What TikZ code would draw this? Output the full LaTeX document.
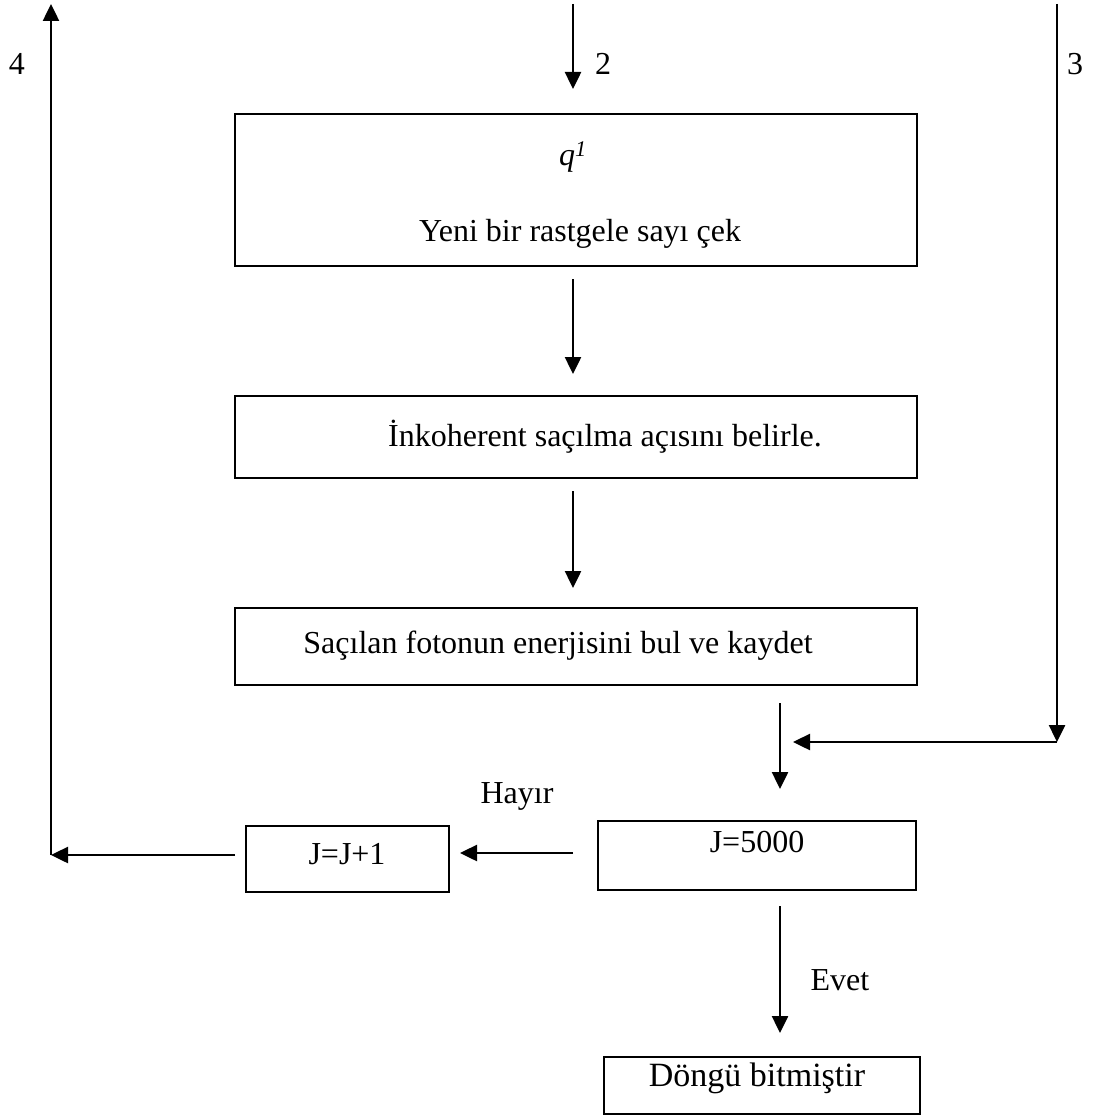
\documentclass[tikz,border=0pt]{standalone}
\usepackage{fontspec}
\setmainfont{Liberation Serif}
\usetikzlibrary{arrows.meta}
\begin{document}
\begin{tikzpicture}[x=1pt,y=-1pt,
  every node/.style={font=\fontsize{32}{38}\selectfont, inner sep=0pt, outer sep=0pt},
  boxstyle/.style={draw, line width=2.5pt},
  txt/.style={},
  arr/.style={line width=2.5pt, -{Triangle[length=17pt,width=16pt]}},
  ln/.style={line width=2.5pt}]
\useasboundingbox (0,0) rectangle (1095,1115);
% boxes
\node[boxstyle, minimum width=682pt, minimum height=152pt] (b1) at (576,190) {};
\node[boxstyle, minimum width=682pt, minimum height=82pt] (b2) at (576,437) {};
\node[boxstyle, minimum width=682pt, minimum height=77pt] (b3) at (576,646.5) {};
\node[boxstyle, minimum width=318pt, minimum height=69pt] (bj) at (757,855.5) {};
\node[boxstyle, minimum width=203pt, minimum height=66pt] (jj) at (347.5,859) {};
\node[boxstyle, minimum width=316pt, minimum height=57pt] (dn) at (762,1085.5) {};
% texts
\node[txt] (tq) at (573,157) {\textit{q}\textsuperscript{\textit{1}}};
\node[txt] (t1) at (580,234) {Yeni bir rastgele sayı çek};
\node[txt] (t2) at (605,437) {İnkoherent saçılma açısını belirle.};
\node[txt] (t3) at (558,646) {Saçılan fotonun enerjisini bul ve kaydet};
\node[txt] (tj) at (757,842) {J=5000};
\node[txt] (tjj) at (347,854) {J=J+1};
\node[txt, font=\fontsize{34}{40}\selectfont] (tdn) at (757,1078) {Döngü bitmiştir};
\node[txt] (lh) at (517,796) {Hayır};
\node[txt] (le) at (840,980) {Evet};
\node[txt] (l4) at (17,64) {4};
\node[txt] (l2) at (603,64) {2};
\node[txt] (l3) at (1075,64) {3};
% coordinates
\coordinate (cx) at (573,0);
\coordinate (cx2) at (780,0);
\coordinate (top2) at (573,4);
\coordinate (r1) at (1057,4);
\coordinate (r2) at (1057,742);
\coordinate (m1) at (793,742);
\coordinate (yh) at (0,853);
\coordinate (yl) at (0,855);
\coordinate (c4) at (51,855);
\coordinate (t4) at (51,5);
% connectors
\draw[arr, shorten >=25pt] (top2) -- (b1.north -| cx);
\draw[arr, shorten <=13pt, shorten >=22pt] (b1.south -| cx) -- (b2.north -| cx);
\draw[arr, shorten <=13pt, shorten >=20pt] (b2.south -| cx) -- (b3.north -| cx);
\draw[arr, shorten <=18pt, shorten >=32pt] (b3.south -| cx2) -- (bj.north -| cx2);
\draw[arr] (r1) -- (r2);
\draw[arr] (r2) -- (m1);
\draw[arr, shorten <=25pt, shorten >=11pt] (bj.west |- yh) -- (jj.east |- yh);
\draw[arr, shorten <=11pt] (jj.west |- yl) -- (c4);
\draw[arr, shorten >=-1pt] (c4) -- (t4);
\draw[arr, shorten <=16pt, shorten >=24pt] (bj.south -| cx2) -- (dn.north -| cx2);
\end{tikzpicture}
\end{document}
